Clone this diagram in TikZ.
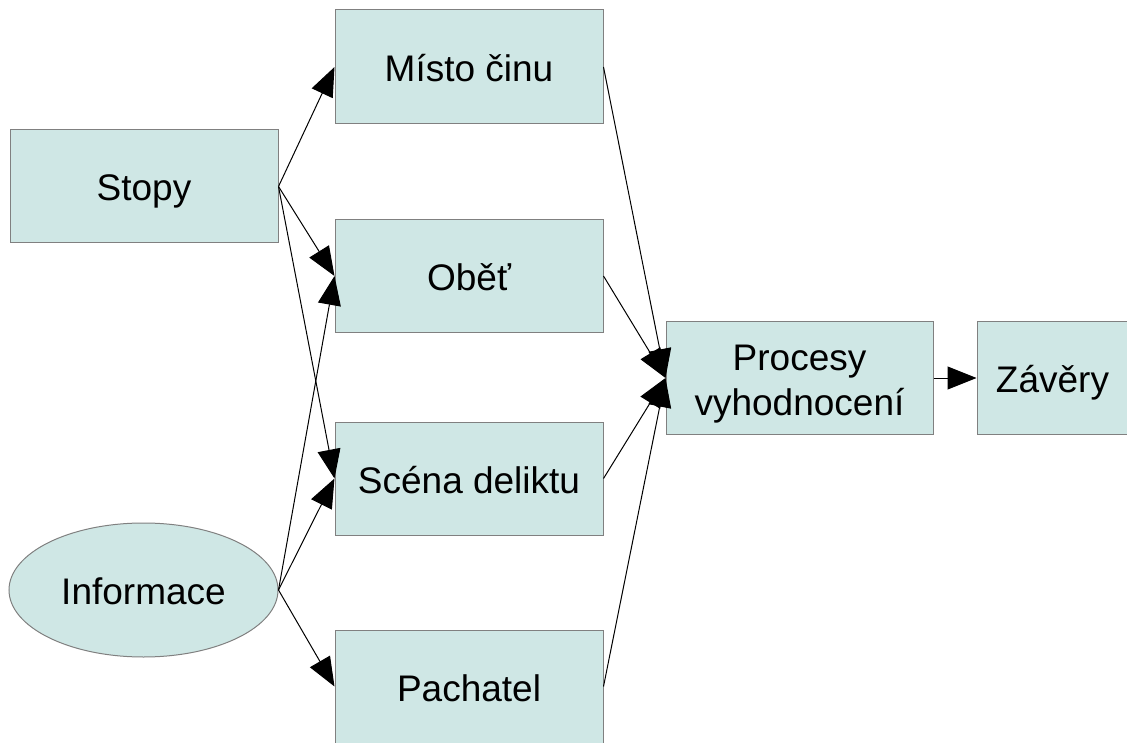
\documentclass[tikz,border=0pt]{standalone}
\usepackage{fontspec}
\setmainfont{Liberation Sans}
\usepackage{xcolor}
\usepackage{tikz}
\usetikzlibrary{positioning,shapes,arrows.meta,calc}
\definecolor{boxfill}{RGB}{207,231,229}
\definecolor{boxline}{RGB}{128,128,128}
\tikzstyle{arrow}=[-{Triangle[length=29pt,width=23pt]}, line width=1pt]
\tikzstyle{item}=[draw=boxline, line width=1pt, fill=boxfill, inner sep=0pt,
  font=\fontsize{37}{45}\selectfont, align=center, text height=35pt, text depth=6pt]

\begin{document}
\begin{tikzpicture}[x=1pt, y=-1pt]
	  \useasboundingbox (0,0) rectangle (1127,743);
	  % sources
	  \node[item, minimum width=268pt, minimum height=113pt] (stopy) at (144,186.5) {Stopy};
	  \node[item, ellipse, minimum width=269pt, minimum height=134pt] (informace) at (143.5,590) {Informace};
	  % facts
	  \node[item, minimum width=268pt, minimum height=114pt] (misto) at (469,67) {Místo činu};
	  \node[item, minimum width=268pt, minimum height=112pt] (obet) at (469,276) {Oběť};
	  \node[item, minimum width=268pt, minimum height=113pt] (scena) at (469,478.5) {Scéna deliktu};
	  \node[item, minimum width=268pt, minimum height=113pt] (pachatel) at (469,686.5) {Pachatel};
	  % evaluation
	  \node[item, text height=80pt, minimum width=267pt, minimum height=113pt] (procesy) at (799.5,378) {Procesy\\vyhodnocení};
	  \node[item, minimum width=151pt, minimum height=113pt] (zavery) at (1052.5,378) {Závěry};

	  \draw[arrow] (stopy.east) -- (misto.west);
	  \draw[arrow] (stopy.east) -- (obet.west);
	  \draw[arrow] (stopy.east) -- (scena.west);
	  \draw[arrow] (informace.east) -- (obet.west);
	  \draw[arrow] (informace.east) -- (scena.west);
	  \draw[arrow] (informace.east) -- (pachatel.west);
	  \draw[arrow] (misto.east) -- (procesy.west);
	  \draw[arrow] (obet.east) -- (procesy.west);
	  \draw[arrow] (scena.east) -- (procesy.west);
	  \draw[arrow] (pachatel.east) -- (procesy.west);
	  \draw[arrow] (procesy) -- (zavery);
	\end{tikzpicture}
\end{document}
